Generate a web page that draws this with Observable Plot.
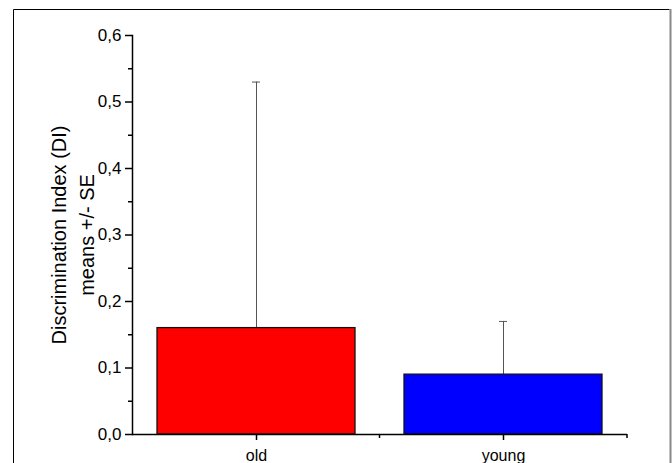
<!DOCTYPE html>
<html>
<head>
<meta charset="utf-8">
<script src="https://cdn.jsdelivr.net/npm/d3@7"></script>
<script src="https://cdn.jsdelivr.net/npm/@observablehq/plot@0.6"></script>
<style>
  html, body { margin: 0; padding: 0; background: #fff; }
  svg { display: block; }
</style>
</head>
<body>
<div id="chart"></div>
<script>
const groups = ["old", "young"];
const means = [0.16, 0.09];
const errors = [0.37, 0.08];
const colors = ["#ff0000", "#0000ff"];
const majorTicks = [0, 0.1, 0.2, 0.3, 0.4, 0.5, 0.6];
const minorTicks = [0.05, 0.15, 0.25, 0.35, 0.45, 0.55];
const yLabel1 = "Discrimination Index (DI)";
const yLabel2 = "means +/- SE";

const data = groups.map((g, i) => ({group: g, mean: means[i], se: errors[i], color: colors[i]}));
const fmt = d => d3.format(".1f")(d).replace(".", ",");
const font = "Liberation Sans, Arial, sans-serif";

const chart = Plot.plot({
  width: 672,
  height: 463,
  marginLeft: 132,
  marginRight: 45,
  marginTop: 35,
  marginBottom: 29,
  style: {fontFamily: font, fontSize: "17px", color: "#000", background: "#fff"},
  x: {domain: groups, paddingInner: 0.2, paddingOuter: 0.1},
  y: {domain: [0, 0.6]},
  color: {type: "identity"},
  marks: [
    Plot.ruleX(data, {x: "group", y1: d => d.mean, y2: d => d.mean + d.se, stroke: "#555", strokeWidth: 1}),
    Plot.tickY(data, {x: "group", y: d => d.mean + d.se, stroke: "#555", strokeWidth: 1, insetLeft: 95, insetRight: 95}),
    Plot.barY(data, {x: "group", y: "mean", fill: "color", stroke: "#111", strokeWidth: 1.3}),
    Plot.ruleY([0], {stroke: "#000", strokeWidth: 1.5}),
    Plot.frame({anchor: "left", stroke: "#000", strokeWidth: 1.5}),
    Plot.axisY({ticks: majorTicks, tickFormat: fmt, tickSize: 7, tickPadding: 4, label: null, fontSize: 17, stroke: "#000", strokeWidth: 1.5}),
    Plot.axisY({ticks: minorTicks, tickFormat: null, text: null, tickSize: 4, label: null, stroke: "#000", strokeWidth: 1.5}),
    Plot.axisX({tickSize: 6, tickPadding: 9, label: null, fontSize: 16, stroke: "#000", strokeWidth: 1.5}),
    Plot.text([yLabel1], {frameAnchor: "left", textAnchor: "middle", rotate: -90, dx: -73, fontSize: 20, fill: "#000"}),
    Plot.text([yLabel2], {frameAnchor: "left", textAnchor: "middle", rotate: -90, dx: -45, fontSize: 20, fill: "#000"})
  ]
});

// minor x ticks at band boundaries, from the library's x scale
const sx = chart.scale("x");
const xs = d3.scaleBand().domain(sx.domain).range(sx.range).paddingInner(sx.paddingInner ?? 0.2).paddingOuter(sx.paddingOuter ?? 0.1);
const svg = d3.select(chart);
const y0 = chart.scale("y").apply(0);
const step = xs.step();
const bounds = groups.map(g => xs(g) + xs.bandwidth() / 2 + step / 2);
svg.append("g").selectAll("line").data(bounds).join("line")
  .attr("x1", d => d).attr("x2", d => d)
  .attr("y1", y0).attr("y2", y0 + 4)
  .attr("stroke", "#000").attr("stroke-width", 1.5);

// outer figure frame
svg.append("path").attr("d", "M13.5,463V9.5H669.5").attr("fill", "none").attr("stroke", "#000").attr("stroke-width", 1);
svg.append("path").attr("d", "M670.5,9V463").attr("fill", "none").attr("stroke", "#888").attr("stroke-width", 2);

document.getElementById("chart").appendChild(chart);
</script>
</body>
</html>
